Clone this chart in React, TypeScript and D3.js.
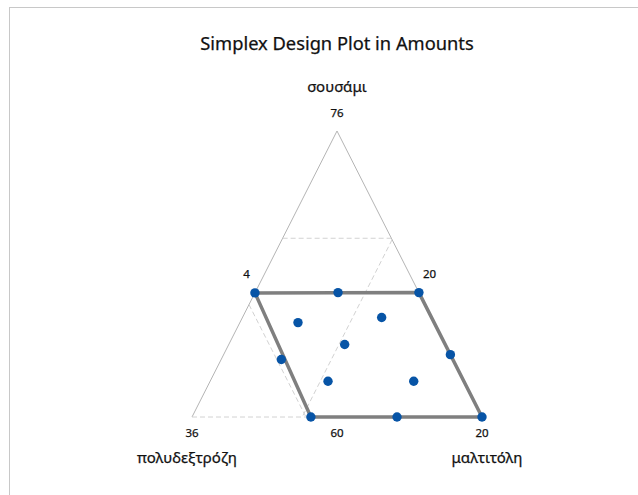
import React from "react";
import * as d3 from "d3";

// Component names (apex, left vertex, right vertex)
const componentNames = ["σουσάμι", "πολυδεξτρόζη", "μαλτιτόλη"];
// Amounts printed at the vertices (apex, left, right)
const vertexLabels = ["76", "36", "20"];
// Amounts printed at the side midpoints (left side, right side, base)
const sideLabels = ["4", "20", "60"];

// Design points as pseudo-component fractions [a, b, c]
const designA = [0.434, 0.435, 0.435, 0.330, 0.348, 0.2535, 0.201, 0.218, 0.125, 0.125, 0, 0, 0];
const designB = [0.566, 0.279, 0, 0.4695, 0.172, 0.347, 0.5915, 0, 0.4685, 0.173, 0.59, 0.293, 0];
const designC = [0, 0.286, 0.565, 0.2005, 0.48, 0.4, 0.2075, 0.782, 0.4065, 0.702, 0.41, 0.707, 1];

// Vertices of the constrained region [a, b, c]
const regionA = [0.434, 0.435, 0, 0];
const regionB = [0.566, 0, 0, 0.59];
const regionC = [0, 0.565, 1, 0.41];

// Reference (bound) lines, each from [a,b,c] to [a,b,c]
const boundStart = [
  [0.625, 0.375, 0],
  [0.62, 0, 0.38],
  [0.393, 0.607, 0],
  [0, 1, 0],
];
const boundEnd = [
  [0.625, 0, 0.375],
  [0, 0.62, 0.38],
  [0, 0.607, 0.393],
  [0, 0.59, 0.41],
];

const W = 638;
const H = 495;

// Ternary projection: a sets the height, (c - b) the horizontal offset
const yScale = d3.scaleLinear().domain([0, 1]).range([417, 131]);
const xScale = d3.scaleLinear().domain([-1, 1]).range([192, 482]);
const project = (a: number, b: number, c: number): [number, number] => [
  xScale(c - b),
  yScale(a),
];

const line = d3.line<[number, number]>();

const font = "'Noto Sans', 'Open Sans', sans-serif";
const ink = "#111";

function Label(props: { x: number; y: number; size: number; text: string }) {
  return (
    <text
      x={props.x}
      y={props.y}
      textAnchor="middle"
      fontFamily={font}
      fontSize={props.size}
      fill={ink}
      stroke={ink}
      strokeWidth={0.25}
    >
      {props.text}
    </text>
  );
}

export default function App() {
  const apex = project(1, 0, 0);
  const left = project(0, 1, 0);
  const right = project(0, 0, 1);

  const region: [number, number][] = regionA.map((a, i) => project(a, regionB[i], regionC[i]));
  const points = designA.map((a, i) => project(a, designB[i], designC[i]));

  const leftMid: [number, number] = [(apex[0] + left[0]) / 2, (apex[1] + left[1]) / 2];
  const rightMid: [number, number] = [(apex[0] + right[0]) / 2, (apex[1] + right[1]) / 2];
  const baseMid: [number, number] = [(left[0] + right[0]) / 2, left[1]];

  return (
    <svg
      width={W}
      height={H}
      style={{ position: "absolute", left: 0, top: 0, background: "#fff" }}
    >
      <rect x={9.5} y={7.5} width={W + 10} height={H + 10} fill="#fff" stroke="#c8c8c8" strokeWidth={1} />

      <Label x={337} y={50} size={18.3} text="Simplex Design Plot in Amounts" />

      {/* simplex sides */}
      <path d={line([left, apex, right]) ?? ""} fill="none" stroke="#b4b4b4" strokeWidth={1} />

      {/* bound lines */}
      {boundStart.map((s, i) => {
        const e = boundEnd[i];
        return (
          <path
            key={i}
            d={line([project(s[0], s[1], s[2]), project(e[0], e[1], e[2])]) ?? ""}
            fill="none"
            stroke="#d2d2d2"
            strokeWidth={1}
            strokeDasharray="5,3"
          />
        );
      })}

      {/* constrained region */}
      <path d={(line(region) ?? "") + "Z"} fill="none" stroke="#7f7f7f" strokeWidth={3.5} strokeLinejoin="round" />

      {points.map((p, i) => (
        <circle key={i} cx={p[0]} cy={p[1]} r={4.7} fill="#0754a6" />
      ))}

      {/* vertex amounts */}
      <Label x={apex[0]} y={apex[1] - 14} size={11.5} text={vertexLabels[0]} />
      <Label x={left[0]} y={left[1] + 20} size={11.5} text={vertexLabels[1]} />
      <Label x={right[0]} y={right[1] + 20} size={11.5} text={vertexLabels[2]} />

      {/* side amounts */}
      <Label x={leftMid[0] - 18} y={leftMid[1] + 4} size={11.5} text={sideLabels[0]} />
      <Label x={rightMid[0] + 20} y={rightMid[1] + 4} size={11.5} text={sideLabels[1]} />
      <Label x={baseMid[0]} y={baseMid[1] + 20} size={11.5} text={sideLabels[2]} />

      {/* component names */}
      <Label x={apex[0]} y={92} size={15} text={componentNames[0]} />
      <Label x={187} y={463} size={15} text={componentNames[1]} />
      <Label x={487} y={463} size={15} text={componentNames[2]} />
    </svg>
  );
}
